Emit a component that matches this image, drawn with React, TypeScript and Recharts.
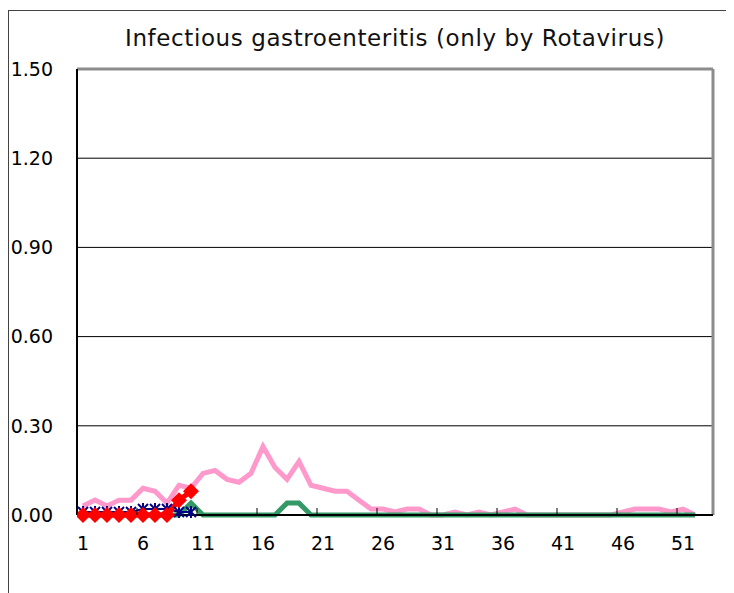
import React from "react";
import {CartesianGrid, Line, LineChart, ReferenceLine, XAxis, YAxis} from "recharts";

const weeks = [
    1, 2, 3, 4, 5, 6, 7, 8, 9, 10, 11, 12, 13, 14, 15, 16, 17, 18, 19, 20, 21, 22, 23, 24, 25, 26,
    27, 28, 29, 30, 31, 32, 33, 34, 35, 36, 37, 38, 39, 40, 41, 42, 43, 44, 45, 46, 47, 48, 49, 50, 51, 52,
];

// pink
const seriesA = [
    0.03, 0.05, 0.03, 0.05, 0.05, 0.09, 0.08, 0.04, 0.10, 0.09, 0.14, 0.15, 0.12, 0.11, 0.14, 0.23, 0.16, 0.12,
    0.18, 0.10, 0.09, 0.08, 0.08, 0.05, 0.02, 0.02, 0.01, 0.02, 0.02, 0.00, 0.00, 0.01, 0.00, 0.01, 0.00, 0.01,
    0.02, 0.00, 0.00, 0.00, 0.00, 0.00, 0.00, 0.00, 0.00, 0.01, 0.02, 0.02, 0.02, 0.01, 0.02, 0.00,
];
// green
const seriesB = [
    0, 0, 0, 0, 0, 0, 0, 0, 0, 0.04, 0, 0, 0, 0, 0, 0, 0, 0.04, 0.04, 0, 0, 0, 0, 0, 0, 0,
    0, 0, 0, 0, 0, 0, 0, 0, 0, 0, 0, 0, 0, 0, 0, 0, 0, 0, 0, 0, 0, 0, 0, 0, 0, 0,
];
// navy, stars
const seriesC = [0.01, 0.01, 0.01, 0.01, 0.01, 0.02, 0.02, 0.02, 0.01, 0.01];
// red, diamonds
const seriesD = [0, 0, 0, 0, 0, 0, 0, 0, 0.05, 0.08];

const xTicks = [1, 6, 11, 16, 21, 26, 31, 36, 41, 46, 51];
const yTicks = [0, 0.3, 0.6, 0.9, 1.2, 1.5];

const data = weeks.map((w, i) => ({
    week: w,
    a: seriesA[i],
    b: seriesB[i],
    c: i < seriesC.length ? seriesC[i] : null,
    d: i < seriesD.length ? seriesD[i] : null,
}));

const FONT = "'DejaVu Sans', sans-serif";
const CHART_W = 725;
const CHART_H = 582;
const MARGIN = {top: 58, right: 21, left: 8, bottom: 38};
const Y_AXIS_W = 60;
const HALF_BAND = (CHART_W - MARGIN.left - MARGIN.right - Y_AXIS_W) / 53 / 2;

const WeekTick = (props: any) => {
    const {x, y, payload} = props;
    return (
        <g>
            <line x1={x - HALF_BAND} x2={x - HALF_BAND} y1={y} y2={y - 7} stroke="#000"/>
            <text x={x} y={y + 35} textAnchor="middle" fontSize={19} fontFamily={FONT} fill="#000">
                {payload.value}
            </text>
        </g>
    );
};

const StarDot = (props: any) => {
    const {cx, cy, index} = props;
    if (cx == null || cy == null) return <g key={index}/>;
    const r = 5;
    return (
        <g key={index} stroke="#000080" strokeWidth={2}>
            <line x1={cx - r} y1={cy - r} x2={cx + r} y2={cy + r}/>
            <line x1={cx - r} y1={cy + r} x2={cx + r} y2={cy - r}/>
            <line x1={cx} y1={cy - r - 1} x2={cx} y2={cy + r + 1}/>
        </g>
    );
};

const DiamondDot = (props: any) => {
    const {cx, cy, index} = props;
    if (cx == null || cy == null) return <g key={index}/>;
    const r = 8;
    return (
        <polygon key={index} points={`${cx},${cy - r} ${cx + r},${cy} ${cx},${cy + r} ${cx - r},${cy}`} fill="#FF0000"/>
    );
};

export default function App() {
    return (
        <div style={{paddingTop: 2}}>
            <div style={{
                position: "relative", width: CHART_W, height: CHART_H,
                borderTop: "1px solid #444", borderLeft: "1px solid #444", fontFamily: FONT,
            }}>
                <div style={{
                    position: "absolute", left: 386, top: 14, transform: "translateX(-50%)",
                    whiteSpace: "nowrap", fontSize: 23, letterSpacing: 0.6, color: "#111",
                }}>
                    Infectious gastroenteritis (only by Rotavirus)
                </div>
                <LineChart width={CHART_W} height={CHART_H} data={data} margin={MARGIN}>
                    <CartesianGrid vertical={false} stroke="#000" strokeWidth={1}/>
                    <XAxis dataKey="week" type="number" domain={[0.5, 53.5]} ticks={xTicks} interval={0}
                           tick={<WeekTick/>} tickLine={false} tickSize={0} tickMargin={0} height={40}
                           axisLine={{stroke: "#000", strokeWidth: 2}} allowDataOverflow/>
                    <YAxis domain={[0, 1.5]} ticks={yTicks} width={Y_AXIS_W} tickLine={false} tickSize={0}
                           tickMargin={24} tickFormatter={(v: number) => v.toFixed(2)}
                           tick={{fontSize: 19, fill: "#000", fontFamily: FONT}}
                           axisLine={{stroke: "#000", strokeWidth: 2}}/>
                    <ReferenceLine y={1.5} stroke="#8c8c8c" strokeWidth={3}/>
                    <ReferenceLine x={53.5} stroke="#8c8c8c" strokeWidth={3}/>
                    <Line type="linear" dataKey="a" stroke="#FF99CC" strokeWidth={5} dot={false}
                          isAnimationActive={false}/>
                    <Line type="linear" dataKey="b" stroke="#339966" strokeWidth={5} dot={false}
                          isAnimationActive={false}/>
                    <Line type="linear" dataKey="c" stroke="#000080" strokeWidth={2} dot={<StarDot/>}
                          isAnimationActive={false}/>
                    <Line type="linear" dataKey="d" stroke="#FF0000" strokeWidth={5} dot={<DiamondDot/>}
                          isAnimationActive={false}/>
                </LineChart>
            </div>
        </div>
    );
}
